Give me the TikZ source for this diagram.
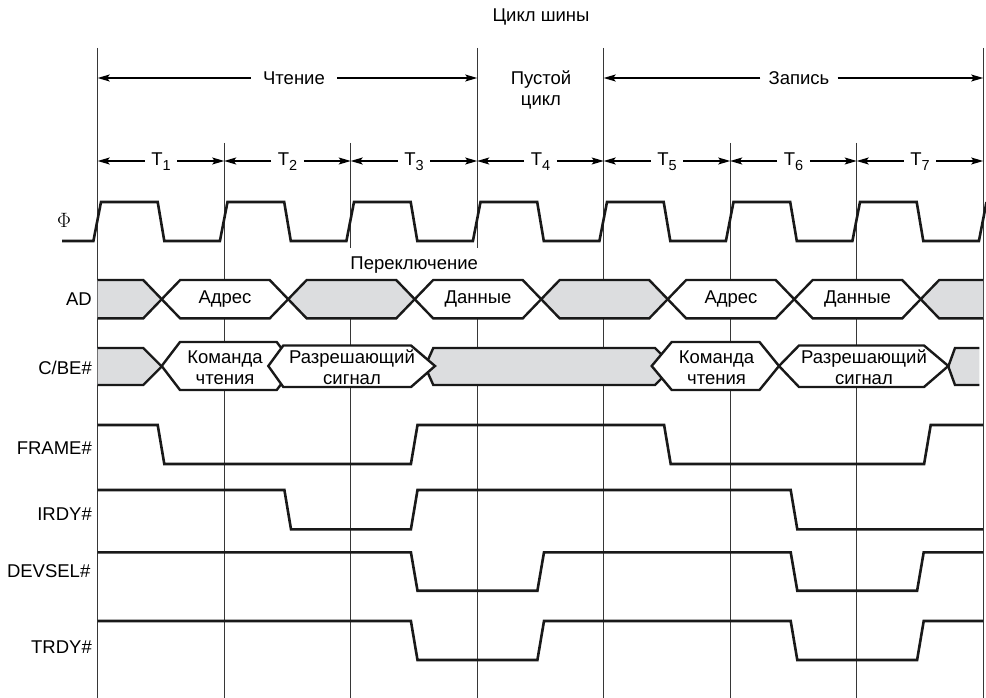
\documentclass[tikz,border=0pt]{standalone}
\usepackage[no-math]{fontspec}
\setmainfont{Liberation Sans}
\usetikzlibrary{arrows.meta}
\definecolor{boxgrey}{RGB}{220,221,223}
\definecolor{gridc}{RGB}{55,55,55}
\definecolor{wavec}{RGB}{25,25,25}
\begin{document}
\begin{tikzpicture}[x=1pt,y=-1pt,
  gridline/.style={draw=gridc,line width=1.2pt},
  wave/.style={draw=wavec,line width=2.6pt,line join=miter},
  boxline/.style={draw=wavec,line width=2.4pt,line join=miter},
  greyfill/.style={fill=boxgrey},
  whitebox/.style={boxline,fill=white},
  arr/.style={draw=black,line width=1.2pt,-{Stealth[length=12pt,width=7pt,inset=2.5pt]}},
  lbl/.style={font=\fontsize{18.5}{21.5}\selectfont,inner sep=0pt,align=center},
  sig/.style={lbl,anchor=east},
  tlab/.style={lbl,inner xsep=6.5pt,text height=13pt,text depth=3pt}]
\useasboundingbox[fill=white] (0,0) rectangle (986,698);

% grid lines
\draw[gridline] (97.7,48) -- (97.7,698);
\draw[gridline] (224.2,143) -- (224.2,698);
\draw[gridline] (350.7,143) -- (350.7,248);
\draw[gridline] (350.7,280) -- (350.7,698);
\draw[gridline] (477.2,48) -- (477.2,248);
\draw[gridline] (477.2,280) -- (477.2,698);
\draw[gridline] (603.7,48) -- (603.7,698);
\draw[gridline] (730.2,143) -- (730.2,698);
\draw[gridline] (856.7,143) -- (856.7,698);
\draw[gridline] (983.2,48) -- (983.2,698);

% top labels and arrows
\node[lbl] (bus) at (541,17) {Цикл шины};
\node[lbl,inner xsep=12pt] (rd) at (294,78) {Чтение};
\node[lbl] (idle) at (541,90) {Пустой\\цикл};
\node[lbl,inner xsep=8pt] (wr) at (799,78) {Запись};
\coordinate (a0) at (97.7,78);
\coordinate (a3) at (477.2,78);
\coordinate (a4) at (603.7,78);
\coordinate (a7) at (983.2,78);
\draw[arr] (rd.west) -- (a0);
\draw[arr] (rd.east) -- (a3);
\draw[arr] (wr.west) -- (a4);
\draw[arr] (wr.east) -- (a7);

% T row
\foreach \k in {0,...,7} \coordinate (t\k) at ({97.7+126.5*\k},161);
\foreach \k in {1,...,7}{
  \pgfmathtruncatemacro\prev{\k-1}
  \node[tlab] (T\k) at ({97.7+126.5*(\k-1)+63.25},161) {T\raisebox{-4.5pt}{\fontsize{14.5}{14.5}\selectfont\k}};
  \draw[arr] (T\k.west) -- (t\prev);
  \draw[arr] (T\k.east) -- (t\k);
}

% clock
\node[font=\fontsize{20}{20}\selectfont,inner sep=0pt] (phi) at (64,220) {$\Phi$};
\draw[wave] (62,241) \foreach \k in {0,...,6}{ -- ({97.7+126.5*\k-4.3},241) -- ({97.7+126.5*\k+3.3},202) -- ({97.7+126.5*\k+60},202) -- ({97.7+126.5*\k+66.6},241)} -- (978.9,241) -- (986.5,202);

% switch label
\node[lbl] (sw) at (414.2,265) {Переключение};

% signal labels
\node[sig] (lAD) at (92,299) {AD};
\node[sig] (lCBE) at (92,367.5) {C/BE\#};
\node[sig] (lFR) at (92,448) {FRAME\#};
\node[sig] (lIR) at (92,514) {IRDY\#};
\node[sig] (lDV) at (90.5,571) {DEVSEL\#};
\node[sig] (lTR) at (92,647) {TRDY\#};

% AD row
\fill[greyfill] (97.7,280) -- (143.2,280) -- (161.7,299.2) -- (143.2,318.4) -- (97.7,318.4) -- cycle;
\draw[boxline] (97.7,280) -- (143.2,280) -- (161.7,299.2) -- (143.2,318.4) -- (97.7,318.4);
\filldraw[boxline,greyfill] (288.2,299.2) -- (306.7,280) -- (396.2,280) -- (414.7,299.2) -- (396.2,318.4) -- (306.7,318.4) -- cycle;
\filldraw[boxline,greyfill] (541.2,299.2) -- (559.7,280) -- (649.2,280) -- (667.7,299.2) -- (649.2,318.4) -- (559.7,318.4) -- cycle;
\fill[greyfill] (983.2,280) -- (939.2,280) -- (920.7,299.2) -- (939.2,318.4) -- (983.2,318.4) -- cycle;
\draw[boxline] (983.2,280) -- (939.2,280) -- (920.7,299.2) -- (939.2,318.4) -- (983.2,318.4);
\filldraw[whitebox] (161.7,299.2) -- (180.2,280) -- (269.7,280) -- (288.2,299.2) -- (269.7,318.4) -- (180.2,318.4) -- cycle;
\filldraw[whitebox] (414.7,299.2) -- (433.2,280) -- (522.7,280) -- (541.2,299.2) -- (522.7,318.4) -- (433.2,318.4) -- cycle;
\filldraw[whitebox] (667.7,299.2) -- (686.2,280) -- (775.7,280) -- (794.2,299.2) -- (775.7,318.4) -- (686.2,318.4) -- cycle;
\filldraw[whitebox] (794.2,299.2) -- (812.7,280) -- (902.2,280) -- (920.7,299.2) -- (902.2,318.4) -- (812.7,318.4) -- cycle;
\node[lbl] (adr1) at (225,299.2) {Адрес};
\node[lbl] (dat1) at (478,299.2) {Данные};
\node[lbl] (adr2) at (731,299.2) {Адрес};
\node[lbl] (dat2) at (857.5,299.2) {Данные};

% C/BE# row
\fill[greyfill] (97.7,348) -- (143.2,348) -- (161.7,366.5) -- (143.2,385) -- (97.7,385) -- cycle;
\draw[boxline] (97.7,348) -- (143.2,348) -- (161.7,366.5) -- (143.2,385) -- (97.7,385);
\filldraw[boxline,greyfill] (425,366.5) -- (433.3,348) -- (655,348) -- (673.5,366.5) -- (655,385) -- (433.3,385) -- cycle;
\fill[greyfill] (979.3,348) -- (955,348) -- (948.3,366.5) -- (955,385) -- (979.3,385) -- cycle;
\draw[boxline] (979.3,348) -- (955,348) -- (948.3,366.5) -- (955,385) -- (979.3,385);
\filldraw[whitebox] (161.7,366) -- (180,342) -- (276.7,342) -- (295,366) -- (276.7,390) -- (180,390) -- cycle;
\filldraw[whitebox] (268.3,366) -- (283.3,345.5) -- (411,345.5) -- (435,366) -- (411,387) -- (283.3,387) -- cycle;
\filldraw[whitebox] (651.7,366) -- (671.7,342) -- (759.5,342) -- (779,366) -- (759.5,390) -- (671.7,390) -- cycle;
\filldraw[whitebox] (779,366) -- (799,345.5) -- (924,345.5) -- (948.3,366) -- (924,387) -- (799,387) -- cycle;
\node[lbl] (cmd1) at (225,367.5) {Команда\\чтения};
\node[lbl] (en1) at (352,367) {Разрешающий\\сигнал};
\node[lbl] (cmd2) at (716.5,367.5) {Команда\\чтения};
\node[lbl] (en2) at (864,367) {Разрешающий\\сигнал};

% control signals
\draw[wave] (97.7,425) -- (157.7,425) -- (164.3,464) -- (410.9,464) -- (417.5,425) -- (664.1,425) -- (670.7,464) -- (924.1,464) -- (930.7,425) -- (983.2,425);
\draw[wave] (97.7,490) -- (284.4,490) -- (291,529.3) -- (410.9,529.3) -- (417.5,490) -- (790.7,490) -- (797.3,529.3) -- (983.2,529.3);
\draw[wave] (97.7,552.3) -- (410.9,552.3) -- (417.5,590.7) -- (537.4,590.7) -- (544,552.3) -- (790.7,552.3) -- (797.3,590.7) -- (917.1,590.7) -- (923.7,552.3) -- (983.2,552.3);
\draw[wave] (97.7,621) -- (410.9,621) -- (417.5,660) -- (537.4,660) -- (544,621) -- (790.7,621) -- (797.3,660) -- (917.1,660) -- (923.7,621) -- (983.2,621);
\end{tikzpicture}
\end{document}
